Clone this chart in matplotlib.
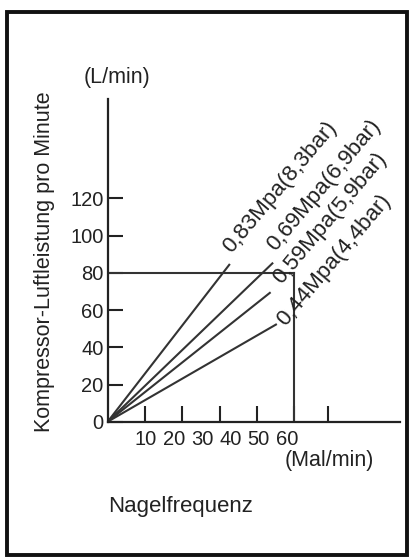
import matplotlib.pyplot as plt
from matplotlib.patches import Rectangle

plt.rcParams['font.family'] = ['Liberation Sans', 'DejaVu Sans']

# pressure lines: from origin to end point (Mal/min, L/min)
pressures = ['0,83Mpa(8,3bar)', '0,69Mpa(6,9bar)', '0,59Mpa(5,9bar)', '0,44Mpa(4,4bar)']
end_x = [39.3, 53.2, 52.4, 54.4]
end_y = [84.8, 85.5, 69.6, 52.5]
label_pos = [(39.9, 90.5), (53.8, 91.4), (55.9, 73.5), (57.0, 51.1)]

# reference point marked with the box
ref_x = 60
ref_y = 80

y_ticks = [0, 20, 40, 60, 80, 100, 120]
x_tick_marks = [12, 24, 36, 48, 60, 71]
x_tick_labels = ['10', '20', '30', '40', '50', '60']

line_col = '#333333'

fig = plt.figure(figsize=(4.09, 5.57), dpi=100)
ax = fig.add_axes([0.2633, 0.2429, 0.7146, 0.5794])
ax.set_xlim(0, 94)
ax.set_ylim(0, 173.5)

for name, x1, y1, pos in zip(pressures, end_x, end_y, label_pos):
    ax.plot([0, x1], [0, y1], color=line_col, lw=1.5, solid_capstyle='butt')
    ax.text(pos[0], pos[1], name, rotation=50, rotation_mode='anchor',
            ha='left', va='baseline', fontsize=16, color='#222222')

ax.plot([0, ref_x], [ref_y, ref_y], color=line_col, lw=1.5)
ax.plot([ref_x, ref_x], [0, ref_y], color=line_col, lw=1.5)

for s in ['top', 'right']:
    ax.spines[s].set_visible(False)
for s in ['left', 'bottom']:
    ax.spines[s].set_linewidth(1.6)
    ax.spines[s].set_color('#222222')

ax.set_yticks(y_ticks)
ax.tick_params(axis='y', direction='in', length=10.8, width=1.5, color='#222222',
               labelsize=14.5, pad=3, labelcolor='#222222')

# tick marks and tick labels do not line up in the original
ax.set_xticks(x_tick_marks, minor=True)
ax.tick_params(axis='x', which='minor', direction='in', length=11.5, width=1.5, color='#222222')
label_x = [12.2 + i * 9.1 for i in range(len(x_tick_labels))]
ax.set_xticks(label_x, x_tick_labels)
ax.tick_params(axis='x', which='major', length=0, labelsize=14.5, pad=6, labelcolor='#222222')
ax.patch.set_alpha(0)

fig.text(0.287, 0.860, '(L/min)', ha='center', va='center', fontsize=15.5, color='#222222')
fig.text(0.110, 0.5296, 'Kompressor-Luftleistung pro Minute', rotation=90,
         ha='center', va='center', fontsize=15.5, color='#222222')
fig.text(0.804, 0.174, '(Mal/min)', ha='center', va='center', fontsize=15.5, color='#222222')
fig.text(0.4425, 0.0813, 'Nagelfrequenz', ha='center', va='baseline', fontsize=16, color='#222222')

fig.patches.append(Rectangle((0.0171, 0.0036), 0.978, 0.975, transform=fig.transFigure,
                             fill=False, lw=2.8, edgecolor='#111111'))

fig.savefig('out.png', dpi=100)
